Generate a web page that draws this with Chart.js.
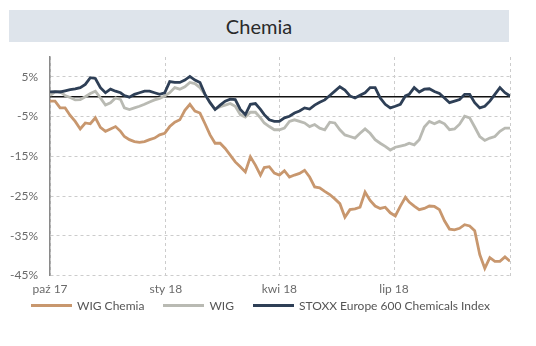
<!DOCTYPE html>
<html>
<head>
<meta charset="utf-8">
<script src="https://cdn.jsdelivr.net/npm/chart.js@4.4.1/dist/chart.umd.min.js"></script>
<style>
  body { margin: 0; background: #fff; font-family: Lato, sans-serif; }
  #wrap { position: relative; width: 536px; height: 346px; }
  #title { position: absolute; left: 9px; top: 10px; width: 500px; height: 32px;
           background: #dee4eb; color: #2a2a2a; font-size: 20px; line-height: 32px; text-align: center; }
  #legend { position: absolute; left: 31px; top: 297px; height: 16px; display: flex; align-items: center;
            font-size: 12px; color: #555; }
  .item { display: flex; align-items: center; margin-right: 19px; }
  .swatch { width: 41px; height: 3px; margin-right: 5px; }
</style>
</head>
<body>
<div id="wrap">
  <div id="title">Chemia</div>
  <canvas id="chart" width="536" height="346"></canvas>
  <div id="legend"></div>
</div>
<script>
// days since 1 Oct 2017
const dayOffsets = [0,4,8,12,16,20,24,28,32,36,40,44,48,52,56,59,63,67,71,75,79,83,87,91,95,
  99,103,107,111,115,119,123,127,131,135,139,143,147,151,155,159,163,167,170,174,178,182,186,
  190,194,198,202,206,210,214,218,222,226,230,234,238,242,246,250,254,258,262,266,270,274,278,
  282,285,289,293,297,301,305,309,313,317,321,325,329,333,337,341,345,349,353,357,361,365];

const wigChemia = [-1.1,-1.1,-2.8,-2.8,-4.7,-6.2,-8.1,-6.6,-6.8,-5.3,-7.7,-8.7,-8.1,-7.5,-8.7,
  -10.0,-10.8,-11.3,-11.5,-11.3,-10.8,-10.4,-9.6,-9.2,-7.5,
  -6.4,-5.8,-3.4,-1.9,-3.6,-4.1,-6.8,-9.6,-11.7,-11.7,-13.0,-14.7,-16.4,-17.6,-18.9,-15.1,-17.2,
  -19.7,-17.8,-17.6,-19.2,-19.7,-18.6,
  -20.2,-19.7,-19.3,-18.5,-20.2,-22.7,-22.9,-23.8,-24.6,-25.7,-26.9,-30.3,-28.4,-28.2,-27.8,
  -24.0,-26.1,-27.5,-28.1,-27.8,-29.2,-30.0,-27.5,
  -25.3,-26.5,-27.5,-28.4,-28.1,-27.5,-27.6,-28.4,-31.2,-33.3,-33.5,-33.1,-32.2,-32.5,-33.7,
  -39.7,-43.2,-40.5,-41.4,-41.4,-40.3,-41.4];

const wig = [0.3,1.2,1.3,0.3,-0.2,-0.8,-0.7,0,0.8,1.4,-0.3,-2.1,-1.5,-0.3,-0.7,-2.8,-3.2,-2.8,
  -2.4,-1.9,-1.3,-0.8,-0.4,0.2,1.0,
  2.3,1.9,2.5,3.6,3.3,2.3,0.6,-1.5,-3.1,-2.5,-2.1,-1.7,-2.4,-4.5,-5.1,-3.9,-3.9,-5.3,-6.6,-7.5,
  -8.3,-8.3,-7.9,
  -6.2,-5.8,-6.2,-6.6,-7.5,-7.0,-7.9,-8.3,-6.4,-6.6,-8.3,-9.6,-10.0,-10.4,-9.2,-8.1,-9.2,-10.8,
  -11.7,-12.5,-13.4,-12.7,-12.4,
  -12.1,-11.7,-12.1,-10.8,-7.6,-6.2,-6.8,-6.2,-6.8,-8.3,-8.1,-6.9,-4.9,-5.3,-7.6,-10.0,-11.0,
  -10.4,-10.0,-8.7,-7.9,-7.9];

const stoxx = [1.2,1.3,1.2,1.5,1.8,2.0,2.3,3.1,4.8,4.6,2.3,1.0,1.9,1.4,1.0,0.3,-0.1,0.6,1.0,1.4,
  1.4,1.0,0.6,1.0,3.8,
  3.6,3.6,4.2,5.1,4.2,3.6,0.6,-1.5,-3.2,-2.1,-1.1,-0.6,-0.7,-3.2,-4.5,-1.9,-1.7,-3.2,-4.5,-5.8,
  -6.2,-6.2,-5.3,
  -4.9,-4.1,-3.6,-2.8,-3.1,-2.1,-1.4,-0.8,0.3,1.4,2.5,1.7,0.2,-0.3,0.4,1.0,2.3,2.3,-0.3,-1.9,
  -2.8,-2.4,-1.9,
  0.2,0.6,2.3,1.2,1.9,2.0,1.3,0.8,-0.3,-1.5,-1.1,-0.7,0.6,0.6,-1.5,-2.8,-2.4,-1.1,0.6,2.3,1.0,0.2];

const monthDays = [0, 92, 182, 273, 365];
const monthLabels = ['paź 17', 'sty 18', 'kwi 18', 'lip 18', ''];
const yTicks = [5, -5, -15, -25, -35, -45];

const seriesNames = ['WIG Chemia', 'WIG', 'STOXX Europe 600 Chemicals Index'];
const seriesColors = ['#c8976e', '#b9bab3', '#2e3f56'];
const seriesValues = [wigChemia, wig, stoxx];

function points(values) {
  return values.map((v, i) => ({ x: dayOffsets[i], y: v }));
}

// first dataset is drawn on top, so put STOXX first
const datasets = [2, 1, 0].map(i => ({
  label: seriesNames[i],
  data: points(seriesValues[i]),
  borderColor: seriesColors[i],
  backgroundColor: seriesColors[i],
  borderWidth: 2.8,
  pointRadius: 0,
  tension: 0
}));

const zeroLine = {
  id: 'zeroLine',
  beforeDatasetsDraw(chart) {
    const { ctx, chartArea, scales } = chart;
    const y = scales.y.getPixelForValue(0);
    ctx.save();
    ctx.strokeStyle = '#111';
    ctx.lineWidth = 1.5;
    ctx.beginPath();
    ctx.moveTo(chartArea.left, y);
    ctx.lineTo(chartArea.right, y);
    ctx.stroke();
    ctx.restore();
  }
};

new Chart(document.getElementById('chart'), {
  type: 'line',
  data: { datasets },
  plugins: [zeroLine],
  options: {
    responsive: false,
    animation: false,
    layout: { padding: { top: 57, right: 26, bottom: 44, left: 0 } },
    plugins: { legend: { display: false }, tooltip: { enabled: false } },
    scales: {
      x: {
        type: 'linear',
        min: 0,
        max: 365,
        afterBuildTicks: s => { s.ticks = monthDays.map(v => ({ value: v })); },
        ticks: {
          padding: 6,
          color: '#6a6a6a',
          font: { family: 'Lato', size: 12 },
          maxRotation: 0,
          callback: (v, i) => monthLabels[i]
        },
        grid: { color: '#cccccc', drawTicks: false },
        border: { display: false, dash: [3, 3] }
      },
      y: {
        min: -45,
        max: 10,
        afterBuildTicks: s => { s.ticks = yTicks.map(v => ({ value: v })); },
        afterFit: s => { s.width = 50; },
        ticks: {
          padding: 12,
          color: '#6a6a6a',
          font: { family: 'Lato', size: 12 },
          callback: v => v + '%'
        },
        grid: { color: '#cccccc', drawTicks: false },
        border: { display: true, color: '#8a8a8a', width: 1.5, dash: [3, 3] }
      }
    }
  }
});

const legend = document.getElementById('legend');
seriesNames.forEach((name, i) => {
  const item = document.createElement('div');
  item.className = 'item';
  const sw = document.createElement('span');
  sw.className = 'swatch';
  sw.style.background = seriesColors[i];
  const tx = document.createElement('span');
  tx.textContent = name;
  item.appendChild(sw);
  item.appendChild(tx);
  legend.appendChild(item);
});
</script>
</body>
</html>
